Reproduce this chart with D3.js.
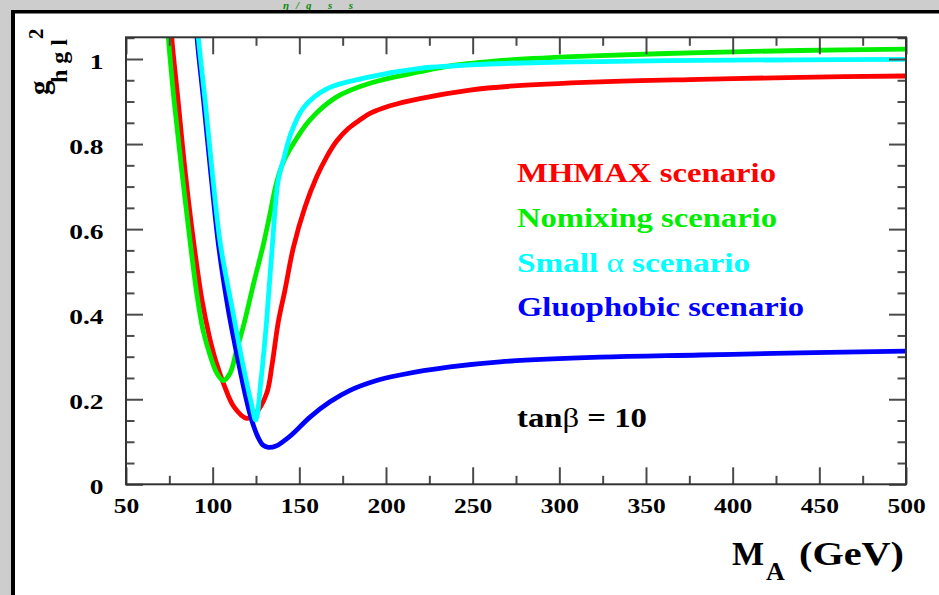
<!DOCTYPE html>
<html>
<head>
<meta charset="utf-8">
<script src="https://cdn.jsdelivr.net/npm/d3@7"></script>
<style>
  html, body { margin: 0; padding: 0; background: #cdcdcd; }
  svg { display: block; }
  text { font-family: "Liberation Serif", "DejaVu Serif", serif; font-weight: bold; }
</style>
</head>
<body>
<svg id="chart" width="939" height="595"></svg>
<script>
// MA (GeV) sample points and squared hgg coupling ratio for each scenario, tan(beta) = 10
const maMhmax = [75.62, 76.37, 80.0, 84.04, 89.23, 93.85, 97.88, 101.92, 106.54, 112.31, 119.63, 125.0, 131.17, 134.23, 137.87, 141.73, 146.52, 153.27, 160.02, 165.79, 171.56, 178.08, 185.0, 190.77, 202.3, 219.6, 248.46, 271.54, 323.46, 381.15, 438.85, 500];
const gMhmax  = [1.115, 1.052, 0.904, 0.739, 0.563, 0.433, 0.351, 0.288, 0.234, 0.182, 0.155, 0.168, 0.214, 0.280, 0.382, 0.457, 0.556, 0.652, 0.723, 0.770, 0.807, 0.836, 0.857, 0.872, 0.890, 0.907, 0.927, 0.936, 0.946, 0.952, 0.957, 0.960];

const maNomix = [73.37, 74.40, 77.69, 82.13, 87.21, 90.96, 94.42, 98.46, 102.33, 106.13, 110.0, 113.87, 117.67, 123.85, 129.21, 133.08, 136.54, 140.58, 145.77, 156.15, 171.56, 190.77, 219.62, 240.79, 271.54, 323.46, 381.15, 438.85, 500];
const gNomix  = [1.115, 1.052, 0.904, 0.739, 0.563, 0.445, 0.363, 0.304, 0.262, 0.244, 0.261, 0.316, 0.371, 0.476, 0.563, 0.636, 0.704, 0.756, 0.796, 0.857, 0.911, 0.943, 0.970, 0.986, 0.998, 1.008, 1.015, 1.020, 1.023];

const maSmall = [90.67, 91.71, 95.58, 99.62, 104.52, 111.44, 115.19, 118.94, 122.12, 124.83, 127.88, 131.17, 134.23, 137.87, 141.15, 144.62, 152.29, 165.79, 190.77, 219.62, 248.46, 271.54, 323.46, 381.15, 438.85, 500];
const gSmall  = [1.115, 1.052, 0.904, 0.739, 0.563, 0.410, 0.328, 0.252, 0.194, 0.151, 0.245, 0.386, 0.551, 0.716, 0.767, 0.819, 0.885, 0.930, 0.958, 0.978, 0.986, 0.990, 0.994, 0.997, 0.998, 0.999];

const maGluo = [90.21, 90.96, 94.71, 98.75, 103.37, 109.02, 112.31, 115.77, 119.23, 122.52, 126.15, 129.04, 132.10, 136.54, 141.15, 145.77, 156.15, 167.69, 179.23, 193.65, 208.08, 236.92, 265.77, 323.46, 381.15, 438.85, 500];
const gGluo  = [1.115, 1.052, 0.904, 0.739, 0.563, 0.410, 0.339, 0.269, 0.203, 0.151, 0.111, 0.092, 0.087, 0.090, 0.102, 0.117, 0.158, 0.194, 0.221, 0.243, 0.257, 0.276, 0.288, 0.299, 0.304, 0.309, 0.313];

const xMajor = [50, 100, 150, 200, 250, 300, 350, 400, 450, 500];
const xMinor = [75, 125, 175, 225, 275, 325, 375, 425, 475];
const yMajor = [0, 0.2, 0.4, 0.6, 0.8, 1];
const yMinor = [0.05, 0.1, 0.15, 0.25, 0.3, 0.35, 0.45, 0.5, 0.55, 0.65, 0.7, 0.75, 0.85, 0.9, 0.95, 1.05];
const yLabels = ["0", "0.2", "0.4", "0.6", "0.8", "1"];

const scenarios = [
  { name: "MHMAX scenario",      ma: maMhmax, g: gMhmax, color: "#ff0000" },
  { name: "Nomixing scenario",   ma: maNomix, g: gNomix, color: "#00ee00" },
  { name: "Gluophobic scenario", ma: maGluo,  g: gGluo,  color: "#0000ff" },
  { name: "Small α scenario",    ma: maSmall, g: gSmall, color: "#00ffff" }
];

const svg = d3.select("#chart");

// widen glyphs horizontally (the figure's lettering is set slightly wide)
const widen = 1.16;
function stretch(sel, k) {
  sel.each(function () {
    const len = this.getComputedTextLength();
    d3.select(this).attr("textLength", len * k).attr("lengthAdjust", "spacingAndGlyphs");
  });
}

// caption fragment above the panel
svg.append("text")
  .attr("x", 283).attr("y", 8.5)
  .attr("font-size", 11).attr("font-style", "italic").attr("font-weight", "normal")
  .attr("fill", "#0a8a0a")
  .attr("textLength", 70).attr("lengthAdjust", "spacing")
  .text("η/g  s  s");

// white panel with black border on top and left
svg.append("rect").attr("x", 11).attr("y", 10).attr("width", 940).attr("height", 600).attr("fill", "#000");
svg.append("rect").attr("x", 15).attr("y", 13.5).attr("width", 940).attr("height", 600).attr("fill", "#fff");

const plotLeft = 126, plotRight = 906, plotTop = 37.3, plotBottom = 484.3;
const x = d3.scaleLinear().domain([50, 500]).range([plotLeft, plotRight]);
const y = d3.scaleLinear().domain([0, (plotBottom - plotTop) / 425.3]).range([plotBottom, plotTop]);

svg.append("clipPath").attr("id", "plotclip")
  .append("rect").attr("x", plotLeft).attr("y", plotTop)
  .attr("width", plotRight - plotLeft).attr("height", plotBottom - plotTop);

// curves
const line = d3.line()
  .x((d) => x(d[0]))
  .y((d) => y(d[1]))
  .curve(d3.curveCatmullRom.alpha(0.5));

const curves = svg.append("g").attr("clip-path", "url(#plotclip)");
scenarios.forEach((s) => {
  const pts = s.ma.map((m, i) => [m, s.g[i]]);
  curves.append("path")
    .attr("d", line(pts))
    .attr("fill", "none")
    .attr("stroke", s.color)
    .attr("stroke-width", 4.8)
    .attr("stroke-linejoin", "round");
});

// axes with inward ticks on all four sides
const tickColor = "#4a4a4a";
function styleAxis(g) {
  g.select(".domain").remove();
  g.selectAll(".tick line").attr("stroke", tickColor).attr("stroke-width", 2);
  g.selectAll(".tick text")
    .attr("fill", "#000")
    .attr("font-size", 22)
    .attr("font-family", "'Liberation Serif', serif")
    .attr("font-weight", "bold");
}
const yMinorVis = yMinor.filter((v) => y(v) >= plotTop);

const xAxisG = svg.append("g").attr("transform", `translate(0,${plotBottom})`)
  .call(d3.axisBottom(x).tickValues(xMajor).tickSize(-17).tickPadding(13.5).tickFormat(d3.format("d")))
  .call(styleAxis);
svg.append("g").attr("transform", `translate(0,${plotBottom})`)
  .call(d3.axisBottom(x).tickValues(xMinor).tickSize(-8.5).tickFormat(""))
  .call(styleAxis);
svg.append("g").attr("transform", `translate(0,${plotTop})`)
  .call(d3.axisTop(x).tickValues(xMajor).tickSize(-17).tickFormat(""))
  .call(styleAxis);
svg.append("g").attr("transform", `translate(0,${plotTop})`)
  .call(d3.axisTop(x).tickValues(xMinor).tickSize(-8.5).tickFormat(""))
  .call(styleAxis);

const yAxisG = svg.append("g").attr("transform", `translate(${plotLeft},0)`)
  .call(d3.axisLeft(y).tickValues(yMajor).tickSize(-17).tickPadding(22.5).tickFormat((d, i) => yLabels[i]))
  .call(styleAxis)
  .call((g) => g.selectAll(".tick text").attr("dy", "0.42em"));
svg.append("g").attr("transform", `translate(${plotLeft},0)`)
  .call(d3.axisLeft(y).tickValues(yMinorVis).tickSize(-8.5).tickFormat(""))
  .call(styleAxis);
svg.append("g").attr("transform", `translate(${plotRight},0)`)
  .call(d3.axisRight(y).tickValues(yMajor).tickSize(-17).tickFormat(""))
  .call(styleAxis);
svg.append("g").attr("transform", `translate(${plotRight},0)`)
  .call(d3.axisRight(y).tickValues(yMinorVis).tickSize(-8.5).tickFormat(""))
  .call(styleAxis);

stretch(xAxisG.selectAll(".tick text"), widen);
stretch(yAxisG.selectAll(".tick text"), 1.25);

// frame
svg.append("rect")
  .attr("x", plotLeft).attr("y", plotTop)
  .attr("width", plotRight - plotLeft).attr("height", plotBottom - plotTop)
  .attr("fill", "none").attr("stroke", "#333").attr("stroke-width", 2);

// legend
const legend = [
  { label: "MHMAX scenario", color: "#ff0000", yb: 182, w: 259 },
  { label: "Nomixing scenario", color: "#00ee00", yb: 227, w: 260 },
  { label: "Small ", greek: "α", rest: " scenario", color: "#00ffff", yb: 272, w: 233 },
  { label: "Gluophobic scenario", color: "#0000ff", yb: 316, w: 287 }
];
legend.forEach((d) => {
  const t = svg.append("text")
    .attr("x", 517).attr("y", d.yb)
    .attr("font-size", 28)
    .attr("fill", d.color)
    .attr("textLength", d.w)
    .attr("lengthAdjust", "spacingAndGlyphs");
  if (d.greek) {
    t.append("tspan").text(d.label);
    t.append("tspan").attr("font-weight", "normal").text(d.greek);
    t.append("tspan").text(d.rest);
  } else {
    t.text(d.label);
  }
});

// tan(beta) annotation
const tb = svg.append("text")
  .attr("x", 517).attr("y", 427)
  .attr("font-size", 27).attr("fill", "#000")
  .attr("textLength", 130).attr("lengthAdjust", "spacingAndGlyphs");
tb.append("tspan").text("tan");
tb.append("tspan").attr("font-weight", "normal").text("β");
tb.append("tspan").text(" = 10");

// x axis title
svg.append("text").attr("x", 732).attr("y", 565).attr("font-size", 34).text("M");
svg.append("text").attr("x", 766).attr("y", 580).attr("font-size", 26).text("A");
svg.append("text").attr("x", 799).attr("y", 565).attr("font-size", 34)
  .attr("textLength", 105).attr("lengthAdjust", "spacingAndGlyphs").text("(GeV)");

// y axis title, rotated
const yt = svg.append("g").attr("transform", "rotate(-90)");
yt.append("text").attr("x", -95).attr("y", 48.5).attr("font-size", 29).text("g");
yt.append("text").attr("x", -83).attr("y", 67).attr("font-size", 24)
  .attr("textLength", 44).attr("lengthAdjust", "spacing").text("hgl");
yt.append("text").attr("x", -39).attr("y", 43).attr("font-size", 21).text("2");
</script>
</body>
</html>
